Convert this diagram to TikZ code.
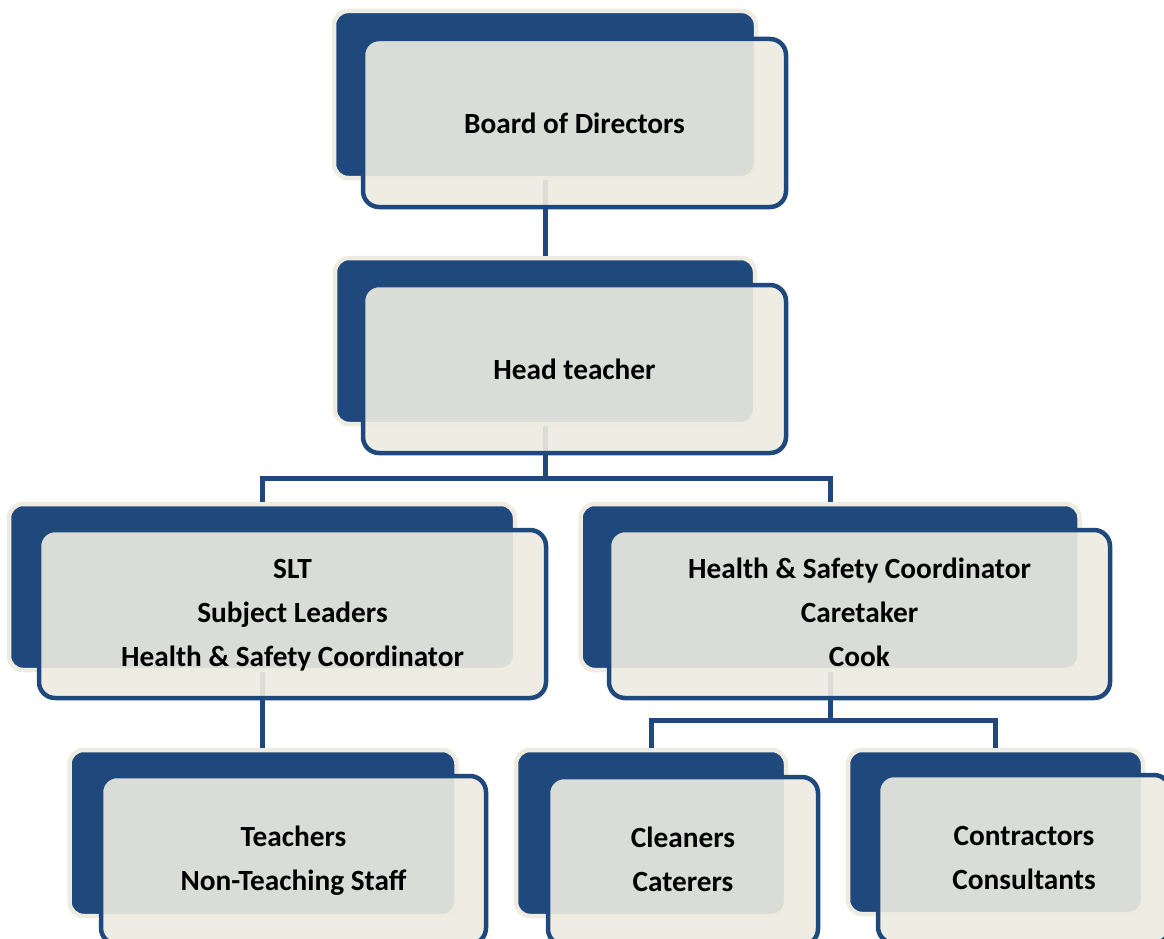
\documentclass[tikz,border=0pt]{standalone}
\usepackage{fontspec}
\setmainfont{Carlito}
\definecolor{orgblue}{HTML}{1F497D}
\definecolor{orgcream}{HTML}{EEECE1}
\begin{document}
\begin{tikzpicture}[x=1pt,y=-1pt,
  backbox/.style={rectangle, rounded corners=14pt, fill=orgblue, draw=orgcream, line width=4.5pt, inner sep=0pt},
  frontbox/.style={rectangle, rounded corners=16pt, fill=orgcream, fill opacity=0.9, text opacity=1, draw=orgblue, draw opacity=1, line width=4.5pt, inner sep=0pt, align=center, font=\bfseries\fontsize{29.3}{44}\selectfont},
  link/.style={draw=orgblue, line width=5pt}]
\useasboundingbox[fill=white] (0,0) rectangle (1164,939);
% back boxes
\node[backbox, minimum width=422pt, minimum height=167pt] (boardB) at (545,94.5) {};
\node[backbox, minimum width=420pt, minimum height=166pt] (headB) at (545,341) {};
\node[backbox, minimum width=506pt, minimum height=166pt] (sltB) at (262,587) {};
\node[backbox, minimum width=499pt, minimum height=166pt] (hsB) at (830,587) {};
\node[backbox, minimum width=387pt, minimum height=166pt] (teachB) at (263,833) {};
\node[backbox, minimum width=270pt, minimum height=166pt] (cleanB) at (651,833) {};
\node[backbox, minimum width=295pt, minimum height=164pt] (contB) at (995.5,832) {};
% connectors
\coordinate (j1) at (545,478);
\coordinate (j2) at (830,720);
\draw[link] (boardB.south) -- (headB.north);
\draw[link] (headB.south) -- (j1);
\draw[link] (sltB.north) |- (j1) -| (hsB.north);
\draw[link] (sltB.south) -- (teachB.north -| sltB.south);
\draw[link] (hsB.south) -- (hsB.south |- j2);
\draw[link] (cleanB.north) |- (j2) -| (contB.north);
% front boxes
\node[frontbox, minimum width=423pt, minimum height=168pt] (board) at (574.5,123) {Board of Directors};
\node[frontbox, minimum width=423pt, minimum height=168pt] (head) at (574.5,369) {Head teacher};
\node[frontbox, minimum width=507pt, minimum height=168pt] (slt) at (292.5,614) {\strut SLT\\Subject Leaders\\Health \& Safety Coordinator\strut};
\node[frontbox, minimum width=501pt, minimum height=168pt] (hs) at (859.5,614) {\strut Health \& Safety Coordinator\\Caretaker\\Cook\strut};
\node[frontbox, minimum width=385pt, minimum height=168pt] (teach) at (293.5,860) {\strut Teachers\\Non-Teaching Staff\strut};
\node[frontbox, minimum width=270pt, minimum height=168pt] (clean) at (683,861) {\strut Cleaners\\Caterers\strut};
\node[frontbox, minimum width=292pt, minimum height=168pt] (cont) at (1024,859) {\strut Contractors\\Consultants\strut};
\end{tikzpicture}
\end{document}
